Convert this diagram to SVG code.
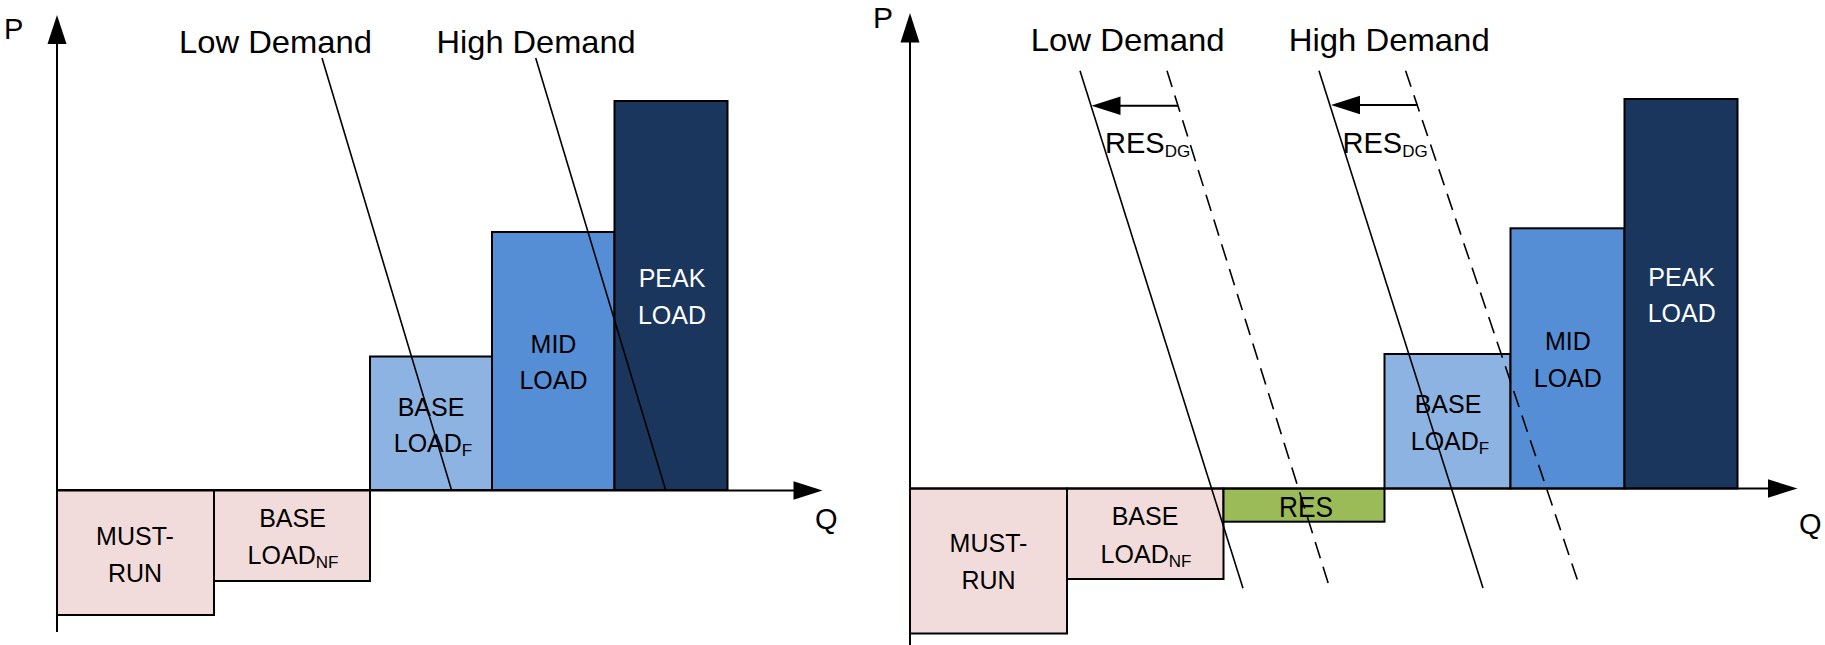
<svg xmlns="http://www.w3.org/2000/svg" width="1825" height="645" viewBox="0 0 1825 645">
<style>
text{font-family:"Liberation Sans",Arial,sans-serif;fill:#000}
.lbl{font-size:25px;text-anchor:middle}
.big{font-size:31.5px}
.ax{font-size:29px}
.sub{font-size:17px}
.box{stroke:#000;stroke-width:2}
.must{fill:#F2DCDB}
.bf{fill:#8DB3E2}
.mid{fill:#558ED5}
.peak{fill:#1B365D}
.res{fill:#9BBB59}
.axis{stroke:#000;stroke-width:2;fill:none}
.dem{stroke:#000;stroke-width:1.6;fill:none}
.dash{stroke-dasharray:17 9}
.wt{fill:#fff}
.rdg{font-size:29px}
</style>
<rect width="1825" height="645" fill="#fff"/>
<!-- LEFT CHART -->
<g id="left-must-run"><rect class="box must" x="57" y="490" width="157" height="125"/>
<text class="lbl" x="135" y="545">MUST-</text><text class="lbl" x="135" y="581.7">RUN</text></g>
<g id="left-base-nf"><rect class="box must" x="214" y="490" width="156" height="91"/>
<text class="lbl" x="292.5" y="527.3">BASE</text><text class="lbl" x="293" y="564.3">LOAD<tspan class="sub" dy="4">NF</tspan></text></g>
<g id="left-base-f"><rect class="box bf" x="370" y="356.5" width="122" height="133.5"/>
<text class="lbl" x="431" y="415.7">BASE</text><text class="lbl" x="433" y="452.3">LOAD<tspan class="sub" dy="4">F</tspan></text></g>
<g id="left-mid"><rect class="box mid" x="492" y="232" width="122.5" height="258"/>
<text class="lbl" x="553.5" y="353.3">MID</text><text class="lbl" x="553.5" y="389">LOAD</text></g>
<g id="left-peak"><rect class="box peak" x="614.5" y="101" width="113" height="389"/>
<text class="lbl wt" x="672" y="287.3">PEAK</text><text class="lbl wt" x="672" y="324">LOAD</text></g>
<g id="left-axes">
<line class="axis" x1="57" y1="632" x2="57" y2="42"/>
<polygon points="57,15 47.5,44 66.5,44"/>
<line class="axis" x1="56" y1="490.5" x2="795" y2="490.5"/>
<polygon points="822.5,490.5 793.5,481.3 793.5,499.7"/>
<text class="ax" x="4" y="39">P</text>
<text class="ax" x="815" y="529">Q</text>
</g>
<g id="left-connectors">
<line class="dem" x1="322" y1="58" x2="451.5" y2="490"/>
<line class="dem" x1="535.7" y1="58" x2="665.6" y2="490"/>
</g>
<g id="left-demand-labels">
<text class="big" x="179" y="52.7" textLength="193" lengthAdjust="spacingAndGlyphs">Low Demand</text>
<text class="big" x="436.6" y="52.7" textLength="199" lengthAdjust="spacingAndGlyphs">High Demand</text>
</g>
<!-- RIGHT CHART -->
<g id="right-must-run"><rect class="box must" x="910" y="488.5" width="157" height="145"/>
<text class="lbl" x="988.5" y="552.3">MUST-</text><text class="lbl" x="988.5" y="589.3">RUN</text></g>
<g id="right-base-nf"><rect class="box must" x="1067" y="488.5" width="156.5" height="90.5"/>
<text class="lbl" x="1145" y="525">BASE</text><text class="lbl" x="1146" y="562.7">LOAD<tspan class="sub" dy="4">NF</tspan></text></g>
<g id="right-res"><rect class="box res" x="1223.5" y="488.5" width="161" height="33.2"/>
<text x="1279" y="517.3" style="font-size:30px" textLength="54" lengthAdjust="spacingAndGlyphs">RES</text></g>
<g id="right-base-f"><rect class="box bf" x="1384.5" y="354" width="126" height="134.5"/>
<text class="lbl" x="1448" y="413.3">BASE</text><text class="lbl" x="1450" y="450">LOAD<tspan class="sub" dy="4">F</tspan></text></g>
<g id="right-mid"><rect class="box mid" x="1510.5" y="228.3" width="114" height="260.2"/>
<text class="lbl" x="1567.8" y="350">MID</text><text class="lbl" x="1567.8" y="386.7">LOAD</text></g>
<g id="right-peak"><rect class="box peak" x="1624.5" y="99" width="113" height="389.5"/>
<text class="lbl wt" x="1681.7" y="286">PEAK</text><text class="lbl wt" x="1681.7" y="322.3">LOAD</text></g>
<g id="right-axes">
<line class="axis" x1="910" y1="645" x2="910" y2="40"/>
<polygon points="910,13 900.5,42.5 919.5,42.5"/>
<line class="axis" x1="909" y1="488.5" x2="1770" y2="488.5"/>
<polygon points="1797.5,488.5 1768,479.3 1768,497.7"/>
<text class="ax" x="873" y="27.7" style="font-size:30px">P</text>
<text class="ax" x="1799" y="534">Q</text>
</g>
<g id="right-connectors">
<line class="dem" x1="1080" y1="70.7" x2="1243" y2="588.3"/>
<line class="dem dash" x1="1167" y1="70.7" x2="1329" y2="585.7"/>
<line class="dem" x1="1319" y1="70.7" x2="1483" y2="588"/>
<line class="dem dash" x1="1405.6" y1="70.7" x2="1578" y2="581.7"/>
<line class="axis" x1="1178" y1="105.7" x2="1118" y2="105.7"/>
<polygon points="1091.5,105.7 1120.5,96.5 1120.5,115"/>
<line class="axis" x1="1417.7" y1="105" x2="1358" y2="105"/>
<polygon points="1331,105 1360,95.8 1360,114.2"/>
</g>
<g id="right-labels">
<text class="big" x="1030.7" y="50.7" textLength="194" lengthAdjust="spacingAndGlyphs">Low Demand</text>
<text class="big" x="1288.7" y="50.7" textLength="201" lengthAdjust="spacingAndGlyphs">High Demand</text>
<text class="rdg" x="1105" y="152.7">RES<tspan class="sub" dy="4.6">DG</tspan></text>
<text class="rdg" x="1342.5" y="152.7">RES<tspan class="sub" dy="4.6">DG</tspan></text>
</g>
</svg>
